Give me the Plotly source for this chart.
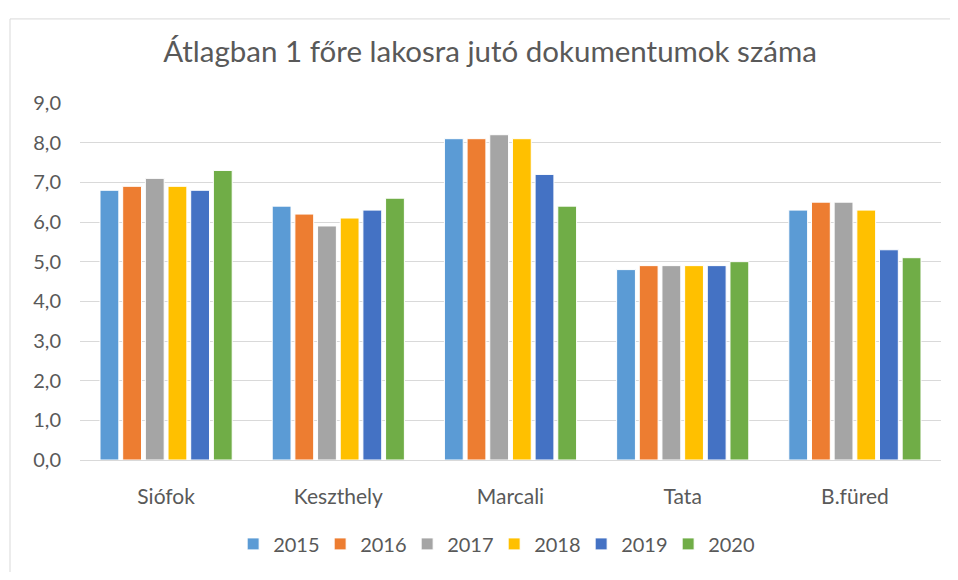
import plotly.graph_objects as go

categories = ["Siófok", "Keszthely", "Marcali", "Tata", "B.füred"]
years = ["2015", "2016", "2017", "2018", "2019", "2020"]
values = {
    "2015": [6.8, 6.4, 8.1, 4.8, 6.3],
    "2016": [6.9, 6.2, 8.1, 4.9, 6.5],
    "2017": [7.1, 5.9, 8.2, 4.9, 6.5],
    "2018": [6.9, 6.1, 8.1, 4.9, 6.3],
    "2019": [6.8, 6.3, 7.2, 4.9, 5.3],
    "2020": [7.3, 6.6, 6.4, 5.0, 5.1],
}
colors = ["#5b9bd5", "#ed7d31", "#a5a5a5", "#ffc000", "#4472c4", "#70ad47"]
title = "Átlagban 1 főre lakosra jutó dokumentumok száma"

fig = go.Figure()
for y, c in zip(years, colors):
    fig.add_trace(go.Bar(
        name=y, x=categories, y=values[y],
        marker=dict(color=c, line=dict(color="white", width=1)),
    ))

font_family = "Lato, 'Open Sans', sans-serif"
fig.update_layout(
    width=942, height=564,
    paper_bgcolor="white", plot_bgcolor="white",
    margin=dict(l=72, r=9, t=95, b=108),
    separators=",.",
    barmode="group", bargap=0.21, bargroupgap=0.17,
    title=dict(text=title, x=0.5117, xref="container", xanchor="center",
               y=0.922, yref="container", yanchor="middle",
               font=dict(family=font_family, size=29.5, color="#595959")),
    font=dict(family=font_family, color="#595959", size=19),
    legend=dict(orientation="h", x=0.481, xanchor="center", y=-0.235, yanchor="middle",
                font=dict(size=20, color="#595959"), itemwidth=30,
                entrywidth=42, entrywidthmode="pixels", traceorder="normal"),
    xaxis=dict(showline=True, linecolor="#d9d9d9", linewidth=1, ticks="",
               tickfont=dict(size=21, color="#595959"), ticklabelstandoff=18),
    yaxis=dict(range=[0, 9], dtick=1, tickformat=".1f", showgrid=True,
               gridcolor="#d9d9d9", gridwidth=1, zeroline=False,
               tickfont=dict(size=20, color="#595959"), ticklabelstandoff=18),
    shapes=[dict(type="rect", xref="paper", yref="paper",
                 x0=-0.0813, x1=2, y0=-1, y1=1.2355,
                 line=dict(color="#d9d9d9", width=1), fillcolor="rgba(0,0,0,0)")],
)

fig.write_html("out.html")
